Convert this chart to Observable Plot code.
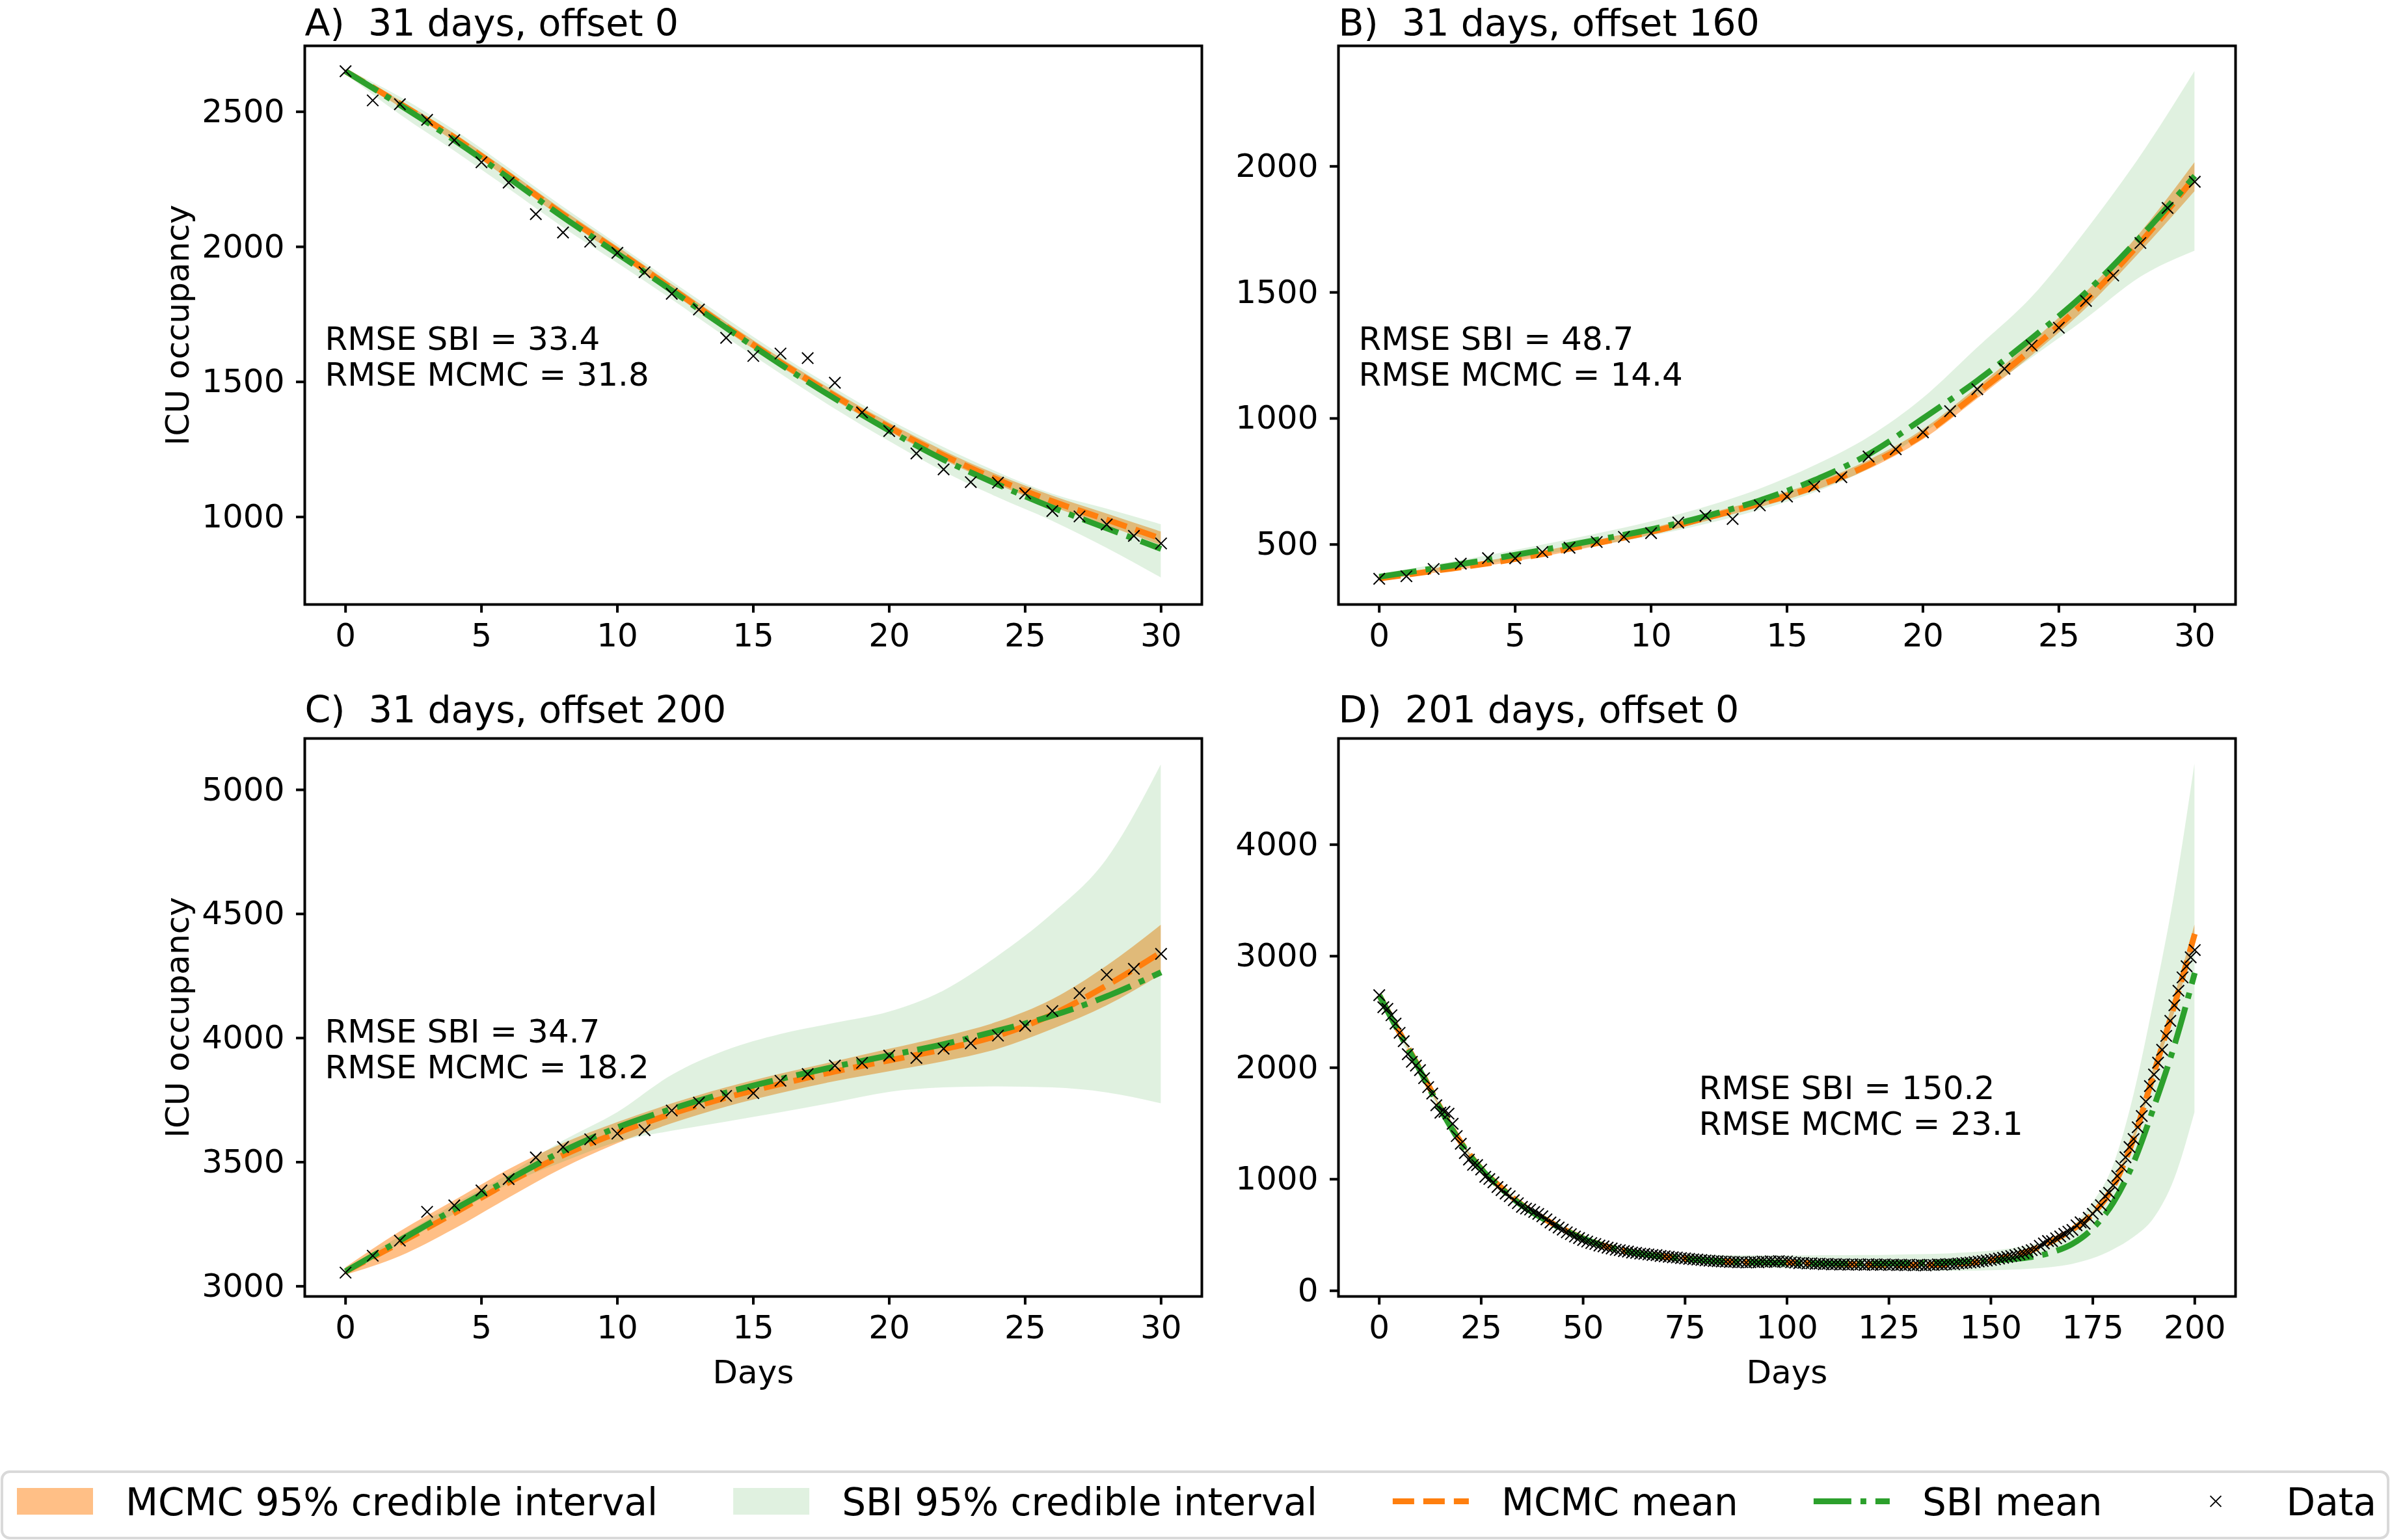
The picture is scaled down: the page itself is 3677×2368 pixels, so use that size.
<!DOCTYPE html>
<html>
<head>
<meta charset="utf-8">
<script src="https://cdn.jsdelivr.net/npm/d3@7"></script>
<script src="https://cdn.jsdelivr.net/npm/@observablehq/plot@0.6"></script>
<style>
  html, body { margin: 0; padding: 0; background: #fff; }
  #chart { position: relative; width: 3677px; height: 2368px; overflow: hidden; font-family: "DejaVu Sans", sans-serif; }
  #chart svg { position: absolute; overflow: visible; }
</style>
</head>
<body>
<div id="chart"></div>
<script>
// ---------------------------------------------------------------------------
// Data: ICU occupancy, observed vs. posterior fits (MCMC and SBI)
// ---------------------------------------------------------------------------
const days31 = d3.range(31);          // day index of the 31-day windows
const grid31 = d3.range(0, 31, 2);    // posterior summaries every 2 days
const days201 = d3.range(201);        // day index of the 201-day window
const grid201 = d3.range(0, 201, 5);  // posterior summaries every 5 days

// A) 31 days, offset 0
const dataA = [2650,2542,2528,2470,2395,2313,2238,2121,2053,2019,1978,1906,1826,1768,1663,1596,1605,1588,1497,1387,1318,1235,1176,1129,1127,1087,1022,1002,972,930,902];
const mcmcMeanA = [2650,2530,2405,2265,2120,1985,1845,1705,1572,1448,1332,1228,1137,1058,990,920];
const mcmcLoA   = [2645,2518,2391,2250,2104,1969,1829,1689,1556,1432,1316,1211,1119,1038,968,895];
const mcmcHiA   = [2655,2542,2419,2280,2136,2001,1861,1721,1588,1464,1348,1245,1155,1078,1012,945];
const sbiMeanA  = [2650,2525,2395,2255,2110,1975,1838,1700,1565,1438,1320,1212,1120,1035,958,882];
const sbiLoA    = [2640,2490,2355,2215,2072,1940,1805,1665,1530,1400,1280,1168,1072,985,885,775];
const sbiHiA    = [2660,2555,2432,2292,2148,2010,1872,1735,1600,1476,1360,1258,1165,1085,1030,972];

// B) 31 days, offset 160
const dataB = [364,374,403,424,446,445,470,487,510,530,545,587,614,601,655,690,730,767,849,878,945,1029,1116,1197,1289,1360,1466,1567,1696,1835,1939];
const mcmcMeanB = [365,395,425,462,505,550,605,662,728,815,935,1100,1275,1468,1698,1958];
const mcmcLoB   = [358,386,415,451,493,537,591,647,712,797,915,1077,1248,1436,1660,1900];
const mcmcHiB   = [372,404,435,473,517,563,619,677,744,833,955,1123,1302,1500,1736,2015];
const sbiMeanB  = [372,405,440,478,518,560,612,675,755,858,1000,1150,1318,1500,1720,1962];
const sbiLoB    = [362,392,424,458,495,533,580,636,705,800,940,1090,1240,1395,1560,1664];
const sbiHiB    = [382,418,456,498,542,590,648,720,812,925,1080,1280,1480,1745,2040,2377];

// C) 31 days, offset 200
const dataC = [3055,3123,3184,3300,3326,3386,3432,3519,3561,3592,3615,3629,3708,3740,3767,3778,3828,3855,3889,3900,3929,3920,3957,3979,4010,4049,4109,4181,4255,4279,4339];
const mcmcMeanC = [3060,3175,3295,3418,3528,3618,3695,3760,3815,3865,3910,3955,4010,4095,4212,4345];
const mcmcLoC   = [3045,3120,3230,3355,3475,3575,3655,3722,3777,3825,3865,3905,3955,4035,4130,4255];
const mcmcHiC   = [3075,3220,3345,3470,3575,3660,3735,3800,3855,3905,3955,4005,4065,4155,4290,4455];
const sbiMeanC  = [3060,3185,3310,3430,3545,3640,3715,3780,3835,3885,3930,3975,4030,4090,4168,4265];
const sbiLoC    = [3050,3168,3290,3410,3500,3580,3625,3662,3700,3740,3782,3800,3804,3800,3780,3736];
const sbiHiC    = [3070,3200,3330,3450,3585,3700,3850,3950,4015,4060,4105,4190,4330,4500,4720,5101];

// D) 201 days, offset 0
const dataD = [
  2650,2542,2528,2470,2395,2313,2238,2121,2053,2019,1978,1906,1826,1768,1663,1596,1605,1588,1497,1387,1318,1235,1176,1129,1127,1087,1022,1002,972,930,902,
  872,848,812,785,752,737,728,706,689,668,640,612,590,567,548,524,508,486,472,455,441,428,419,405,398,386,379,368,364,356,
  351,343,340,333,331,326,321,319,312,309,305,300,298,293,290,286,282,280,276,272,270,266,265,262,261,258,259,255,257,253,
  256,258,255,262,259,264,258,266,261,263,256,252,248,250,244,246,241,243,238,241,236,239,235,238,233,237,234,236,232,238,
  233,236,232,237,231,235,230,233,229,234,228,232,230,227,233,231,236,233,238,240,238,244,247,250,253,257,262,266,271,277,
  282,289,296,303,311,319,328,338,350,
  364,374,403,424,446,445,470,487,510,530,545,587,614,601,655,690,730,767,849,878,945,1029,1116,1197,1289,1360,1466,1567,1696,1835,1939,
  2045,2160,2285,2420,2560,2690,2810,2910,2990,3055
];
const mcmcMeanD = [2650,2315,1985,1640,1332,1095,922,770,655,555,470,405,360,328,305,288,273,262,256,254,252,248,243,238,235,233,232,233,238,250,272,310,365,445,550,692,935,1365,1955,2560,3200];
const mcmcLoD   = [2640,2303,1973,1628,1321,1085,912,761,647,548,464,400,355,324,301,284,269,258,252,250,248,244,239,234,231,229,228,229,234,245,266,303,356,434,536,675,912,1330,1905,2490,3120];
const mcmcHiD   = [2660,2327,1997,1652,1343,1105,932,779,663,562,476,410,365,332,309,292,277,266,260,258,256,252,247,242,239,237,236,237,242,255,278,317,374,456,564,709,958,1400,2005,2630,3280];
const sbiMeanD  = [2650,2305,1975,1630,1325,1090,915,765,650,552,468,404,358,326,303,286,272,262,256,253,250,247,245,244,244,245,247,250,255,262,270,282,303,345,420,560,790,1150,1650,2200,2850];
const sbiLoD    = [2630,2270,1940,1595,1290,1055,880,735,620,525,440,375,330,298,270,245,228,216,208,202,198,195,192,189,186,183,180,178,177,178,181,186,195,210,238,288,368,478,650,1000,1597];
const sbiHiD    = [2670,2340,2010,1665,1360,1125,950,795,680,580,497,435,390,360,340,330,322,318,316,315,315,315,316,317,318,320,323,327,333,342,356,378,412,470,580,790,1120,1750,2600,3550,4725];

// Tick values
const xTicks31 = [0, 5, 10, 15, 20, 25, 30];
const xTicks201 = [0, 25, 50, 75, 100, 125, 150, 175, 200];
const yTicksA = [1000, 1500, 2000, 2500];
const yTicksB = [500, 1000, 1500, 2000];
const yTicksC = [3000, 3500, 4000, 4500, 5000];
const yTicksD = [0, 1000, 2000, 3000, 4000];

// Legend entries
const legendLabels = ["MCMC 95% credible interval", "SBI 95% credible interval", "MCMC mean", "SBI mean", "Data"];

// ---------------------------------------------------------------------------
// Styling
// ---------------------------------------------------------------------------
const ORANGE = "#ff7f0e";
const GREEN = "#2ca02c";
const MCMC_DASH = "33,14";
const SBI_DASH = "58,14,9,14";
const LINE_W = 9;

const chart = document.getElementById("chart");

function panel(p) {
  const [fx0, fx1, fy0, fy1] = p.frame;
  const marks = [
    Plot.area(p.grid, {x1: p.grid, y1: p.mcmcLo, y2: p.mcmcHi, fill: ORANGE, fillOpacity: 0.5, curve: "monotone-x"}),
    Plot.area(p.grid, {x1: p.grid, y1: p.sbiLo, y2: p.sbiHi, fill: GREEN, fillOpacity: 0.15, curve: "monotone-x"}),
    Plot.text([p.rmse], {text: d => d, frameAnchor: "top-left", dx: p.rmseAt[0], dy: p.rmseAt[1],
      textAnchor: "start", lineAnchor: "bottom", lineHeight: 1.1, fontSize: 50, ariaLabel: "rmse"}),
    Plot.line(p.grid, {x: p.grid, y: p.mcmcMean, stroke: ORANGE, strokeWidth: LINE_W,
      strokeDasharray: MCMC_DASH, strokeLinecap: "butt", strokeLinejoin: "round", curve: "monotone-x"}),
    Plot.line(p.grid, {x: p.grid, y: p.sbiMean, stroke: GREEN, strokeWidth: LINE_W,
      strokeDasharray: SBI_DASH, strokeLinecap: "butt", strokeLinejoin: "round", curve: "monotone-x"}),
    Plot.dot(p.days, {x: p.days, y: p.values, symbol: "times", r: 8, stroke: "black", strokeWidth: 2}),
    Plot.frame({stroke: "black", strokeWidth: 4}),
    Plot.axisX({ticks: p.xTicks, tickFormat: d => String(d), tickSize: 13, tickPadding: 16,
      fontSize: 50, strokeWidth: 4, label: null}),
    Plot.axisY({ticks: p.yTicks, tickFormat: d => String(d), tickSize: 13, tickPadding: 18,
      fontSize: 50, strokeWidth: 4, label: null}),
    Plot.text([p.title], {text: d => d, frameAnchor: "top-left", dy: p.titleDy, textAnchor: "start",
      lineAnchor: "bottom", fontSize: 57})
  ];
  if (p.yLabel) marks.push(Plot.text([p.yLabel], {text: d => d, frameAnchor: "left", dx: -179,
    rotate: -90, textAnchor: "middle", lineAnchor: "bottom", fontSize: 50}));
  if (p.xLabel) marks.push(Plot.text([p.xLabel], {text: d => d, frameAnchor: "bottom", dy: 133,
    lineAnchor: "bottom", fontSize: 50}));

  const svg = Plot.plot({
    width: p.size[0], height: p.size[1],
    marginLeft: fx0 - p.pos[0], marginRight: p.pos[0] + p.size[0] - fx1,
    marginTop: fy0 - p.pos[1], marginBottom: p.pos[1] + p.size[1] - fy1,
    style: {fontFamily: "'DejaVu Sans', sans-serif", fontSize: "50px", color: "black",
      background: "transparent", overflow: "visible", whiteSpace: "pre"},
    x: {domain: p.xDomain},
    y: {domain: p.yDomain},
    marks
  });
  svg.style.left = p.pos[0] + "px";
  svg.style.top = p.pos[1] + "px";
  chart.appendChild(svg);

  // white box behind the RMSE annotation
  const g = svg.querySelector('g[aria-label="rmse"]');
  if (g) {
    const b = g.getBBox();
    const pad = 16;
    const rect = document.createElementNS("http://www.w3.org/2000/svg", "rect");
    rect.setAttribute("x", b.x - pad);
    rect.setAttribute("y", b.y - pad);
    rect.setAttribute("width", b.width + 2 * pad);
    rect.setAttribute("height", b.height + 2 * pad);
    rect.setAttribute("fill", "white");
    g.parentNode.insertBefore(rect, g);
  }
}

panel({
  pos: [0, 0], size: [1900, 1040], frame: [468, 1847, 70, 929],
  xDomain: [-1.5, 31.5], yDomain: [676, 2744], xTicks: xTicks31, yTicks: yTicksA,
  days: days31, values: dataA, grid: grid31,
  mcmcMean: mcmcMeanA, mcmcLo: mcmcLoA, mcmcHi: mcmcHiA,
  sbiMean: sbiMeanA, sbiLo: sbiLoA, sbiHi: sbiHiA,
  title: "A)  31 days, offset 0", titleDy: -16,
  rmse: "RMSE SBI = 33.4\nRMSE MCMC = 31.8", rmseAt: [31, 522],
  yLabel: "ICU occupancy"
});

panel({
  pos: [1900, 0], size: [1777, 1040], frame: [2057, 3436, 70, 929],
  xDomain: [-1.5, 31.5], yDomain: [262, 2478], xTicks: xTicks31, yTicks: yTicksB,
  days: days31, values: dataB, grid: grid31,
  mcmcMean: mcmcMeanB, mcmcLo: mcmcLoB, mcmcHi: mcmcHiB,
  sbiMean: sbiMeanB, sbiLo: sbiLoB, sbiHi: sbiHiB,
  title: "B)  31 days, offset 160", titleDy: -16,
  rmse: "RMSE SBI = 48.7\nRMSE MCMC = 14.4", rmseAt: [31, 522]
});

panel({
  pos: [0, 1040], size: [1900, 1180], frame: [468, 1847, 1135, 1993],
  xDomain: [-1.5, 31.5], yDomain: [2959, 5207], xTicks: xTicks31, yTicks: yTicksC,
  days: days31, values: dataC, grid: grid31,
  mcmcMean: mcmcMeanC, mcmcLo: mcmcLoC, mcmcHi: mcmcHiC,
  sbiMean: sbiMeanC, sbiLo: sbiLoC, sbiHi: sbiHiC,
  title: "C)  31 days, offset 200", titleDy: -25,
  rmse: "RMSE SBI = 34.7\nRMSE MCMC = 18.2", rmseAt: [31, 522],
  yLabel: "ICU occupancy", xLabel: "Days"
});

panel({
  pos: [1900, 1040], size: [1777, 1180], frame: [2057, 3436, 1135, 1993],
  xDomain: [-10, 210], yDomain: [-51, 4952], xTicks: xTicks201, yTicks: yTicksD,
  days: days201, values: dataD, grid: grid201,
  mcmcMean: mcmcMeanD, mcmcLo: mcmcLoD, mcmcHi: mcmcHiD,
  sbiMean: sbiMeanD, sbiLo: sbiLoD, sbiHi: sbiHiD,
  title: "D)  201 days, offset 0", titleDy: -25,
  rmse: "RMSE SBI = 150.2\nRMSE MCMC = 23.1", rmseAt: [554, 609],
  xLabel: "Days"
});

// ---------------------------------------------------------------------------
// Shared legend below the panels
// ---------------------------------------------------------------------------
(function legend() {
  const top = 2250;
  const svg = d3.select(chart).append("svg")
    .attr("width", 3677).attr("height", 118)
    .style("left", "0px").style("top", top + "px")
    .style("font-family", "'DejaVu Sans', sans-serif");

  svg.append("rect")
    .attr("x", 3).attr("y", 13).attr("width", 3668).attr("height", 102).attr("rx", 12)
    .attr("fill", "white").attr("fill-opacity", 0.8)
    .attr("stroke", "#d9d9d9").attr("stroke-width", 4);

  const fontSize = 58, handleW = 117, textPad = 50, colSpace = 116;
  const midY = 2308.5 - top, baseY = 2330 - top;
  let x = 26;
  legendLabels.forEach((label, i) => {
    const g = svg.append("g");
    if (i === 0 || i === 1) {
      g.append("rect").attr("x", x).attr("y", midY - 20.5).attr("width", handleW).attr("height", 41)
        .attr("fill", i === 0 ? ORANGE : GREEN).attr("fill-opacity", i === 0 ? 0.5 : 0.15);
    } else if (i === 2 || i === 3) {
      g.append("line").attr("x1", x).attr("x2", x + handleW).attr("y1", midY).attr("y2", midY)
        .attr("stroke", i === 2 ? ORANGE : GREEN).attr("stroke-width", LINE_W)
        .attr("stroke-dasharray", i === 2 ? MCMC_DASH : SBI_DASH);
    } else {
      const cx = x + handleW / 2, s = 8.4;
      g.append("path").attr("d", `M${cx - s},${midY - s}L${cx + s},${midY + s}M${cx - s},${midY + s}L${cx + s},${midY - s}`)
        .attr("stroke", "black").attr("stroke-width", 2).attr("fill", "none");
    }
    const t = g.append("text").attr("x", x + handleW + textPad).attr("y", baseY)
      .attr("font-size", fontSize).attr("fill", "black").text(label);
    x += handleW + textPad + t.node().getComputedTextLength() + colSpace;
  });
})();
</script>
</body>
</html>
